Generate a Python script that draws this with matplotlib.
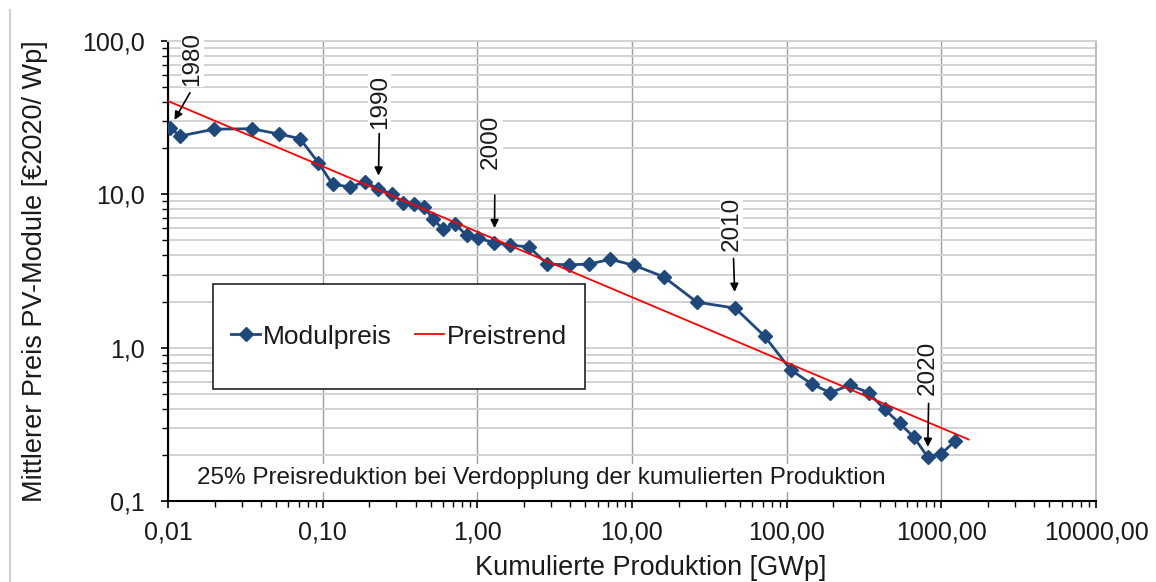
import matplotlib
matplotlib.use("Agg")
import matplotlib.pyplot as plt
from matplotlib.ticker import FuncFormatter, NullFormatter, LogLocator
from matplotlib.patches import Rectangle
from matplotlib.lines import Line2D

plt.rcParams['font.family'] = ['Liberation Sans', 'DejaVu Sans']

# ---- data ----
prod_gwp = [0.0103, 0.012, 0.0198, 0.0348, 0.0524, 0.0713, 0.0937, 0.116, 0.150, 0.1876,
            0.2287, 0.282, 0.332, 0.389, 0.452, 0.519, 0.602, 0.717, 0.853, 1.015,
            1.29, 1.63, 2.15, 2.83, 3.89, 5.30, 7.24, 10.35, 16.0, 26.3,
            46.5, 71.9, 106.6, 145.8, 191.5, 255, 339, 430, 537, 662,
            815, 1000, 1231]
price_eur = [27.2, 24.0, 26.6, 26.8, 24.7, 23.1, 16.1, 11.6, 11.2, 12.0,
             10.9, 10.0, 8.81, 8.65, 8.30, 6.87, 5.91, 6.40, 5.40, 5.17,
             4.83, 4.65, 4.55, 3.51, 3.47, 3.51, 3.77, 3.44, 2.90, 1.98,
             1.81, 1.19, 0.714, 0.579, 0.508, 0.570, 0.508, 0.396, 0.321, 0.262,
             0.194, 0.204, 0.246]
first_year = 1980
trend_x = [0.01, 1500]
trend_y = [40.6, 0.252]
series_labels = ['Modulpreis', 'Preistrend']
marked_years = [1980, 1990, 2000, 2010, 2020]
note_text = '25% Preisreduktion bei Verdopplung der kumulierten Produktion'
xlabel = 'Kumulierte Produktion [GWp]'
ylabel = 'Mittlerer Preis PV-Module [€2020/ Wp]'

# ---- style / layout ----
W, H = 1156, 582
fig = plt.figure(figsize=(W / 100, H / 100), dpi=100)
ax = fig.add_axes([168 / W, 1 - 501 / H, 928 / W, 460 / H])

ax.set_xscale('log')
ax.set_yscale('log')
ax.set_xlim(0.01, 10000)
ax.set_ylim(0.1, 100)

ax.xaxis.set_major_locator(LogLocator(base=10, numticks=20))
ax.xaxis.set_minor_locator(LogLocator(base=10, subs=range(2, 10), numticks=20))
ax.yaxis.set_major_locator(LogLocator(base=10, numticks=20))
ax.yaxis.set_minor_locator(LogLocator(base=10, subs=range(2, 10), numticks=20))
ax.xaxis.set_major_formatter(FuncFormatter(lambda v, p: f"{v:.2f}".replace('.', ',')))
ax.yaxis.set_major_formatter(FuncFormatter(lambda v, p: f"{v:.1f}".replace('.', ',')))
ax.xaxis.set_minor_formatter(NullFormatter())
ax.yaxis.set_minor_formatter(NullFormatter())

ax.tick_params(axis='both', which='major', direction='out', length=5, width=1.2,
               labelsize=18, color='black', labelcolor='#1a1a1a')
ax.tick_params(axis='both', which='minor', direction='out', length=4, width=1.0, color='black')
ax.tick_params(axis='x', which='major', pad=9)
ax.tick_params(axis='y', which='major', pad=12)
ax.tick_params(right=False, top=False, which='both')

ax.set_axisbelow(True)
ax.yaxis.grid(True, which='both', color='#D2D2D2', lw=1.4)
ax.xaxis.grid(True, which='major', color='#9E9E9E', lw=1.0)

ax.spines['left'].set_color('black')
ax.spines['left'].set_linewidth(1.5)
ax.spines['bottom'].set_color('black')
ax.spines['bottom'].set_linewidth(1.5)
ax.spines['right'].set_color('#BFBFBF')
ax.spines['right'].set_linewidth(1.5)
ax.spines['top'].set_color('#D2D2D2')
ax.spines['top'].set_linewidth(1.4)

line_mod, = ax.plot(prod_gwp, price_eur, color='#1F497D', lw=2.0, marker='D', ms=7.5,
                    zorder=3, label=series_labels[0])
line_trend, = ax.plot(trend_x, trend_y, color='#FF0000', lw=1.3, zorder=4,
                      label=series_labels[1])

ax.set_xlabel(xlabel, fontsize=19.5, color='#1a1a1a')
ax.set_ylabel(ylabel, fontsize=19.5, color='#1a1a1a')
ax.xaxis.set_label_coords((651 - 168) / 928, -0.118)
ax.yaxis.set_label_coords(-0.129, 0.5)

# annotations: (text offset px), (arrow tail offset px), gap px
ann_text_off = [(22.5, 68.7), (1.4, 86.6), (-3.2, 101.2), (-3.8, 83.8), (0.2, 89.2)]
ann_tail_off = [(20, 35), (1, 55), (0.3, 47.7), (-1.7, 49.7), (1, 53.4)]
ann_gap_px = [9, 13, 14.7, 16.3, 10]
for yr, toff, aoff, gap in zip(marked_years, ann_text_off, ann_tail_off, ann_gap_px):
    i = yr - first_year
    ax.annotate('', xy=(prod_gwp[i], price_eur[i]), xytext=aoff, textcoords='offset pixels',
                arrowprops=dict(arrowstyle='-|>', color='black', lw=1.2, shrinkA=0,
                                shrinkB=gap * 0.72, mutation_scale=12), zorder=6)
    ax.annotate(str(yr), xy=(prod_gwp[i], price_eur[i]), xytext=toff, textcoords='offset pixels',
                rotation=90, ha='center', va='center', fontsize=17.5, color='#1a1a1a',
                bbox=dict(fc='white', ec='none', pad=0.5), zorder=6)

ax.text((541.5 - 168) / 928, (501 - 478) / 460, note_text, transform=ax.transAxes,
        ha='center', va='center', fontsize=17.5, color='#1a1a1a',
        bbox=dict(fc='white', ec='none', pad=2), zorder=6)

# legend box
ax.add_patch(Rectangle(((213 - 168) / 928, (501 - 389) / 460), (585 - 213) / 928, (389 - 284) / 460,
                       transform=ax.transAxes, fc='white', ec='#222222', lw=1.2, zorder=7))
leg = ax.legend(handles=[line_mod, line_trend], labels=series_labels, loc='center',
                bbox_to_anchor=((399 - 168) / 928, (501 - 336.7) / 460), ncol=2,
                frameon=False, fontsize=19, handlelength=1.1, handletextpad=0.12,
                columnspacing=0.85)
leg.set_zorder(8)
for t in leg.get_texts():
    t.set_color('#1a1a1a')

fig.add_artist(Line2D([10 / W, 10 / W], [0, 1 - 10 / H], color='#D0D0D0', lw=1.5))

fig.savefig('out.png', dpi=100)
